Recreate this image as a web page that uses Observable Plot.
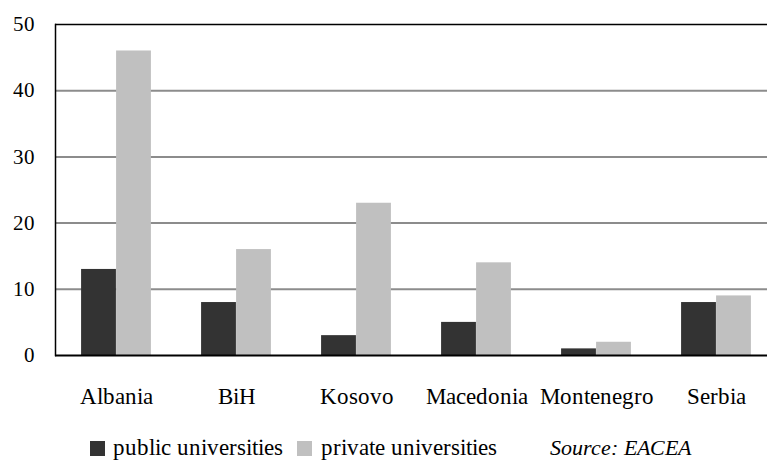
<!DOCTYPE html>
<html>
<head>
<meta charset="utf-8">
<style>
  @font-face { font-family: "ChartSerif"; font-style: normal; src: local("Liberation Serif"), local("LiberationSerif"), local("Times New Roman"); }
  @font-face { font-family: "ChartSerif"; font-style: italic; src: local("Liberation Serif Italic"), local("LiberationSerif-Italic"), local("Times New Roman Italic"); }
  html, body { margin: 0; background: #fff; font-family: "ChartSerif", "Liberation Serif", "Times New Roman", Times, serif; }
  #chart svg { display: block; }
  #chart text { font-family: "ChartSerif", "Liberation Serif", "Times New Roman", Times, serif !important; }
  .legend { position: relative; width: 767px; height: 42px; color: #000; }
  .legend > div { position: absolute; white-space: nowrap; }
</style>
</head>
<body>
<div id="chart"></div>
<script src="https://cdn.jsdelivr.net/npm/d3@7"></script>
<script src="https://cdn.jsdelivr.net/npm/@observablehq/plot@0.6"></script>
<script>
// Number of universities per country, by type
const countries = ["Albania", "BiH", "Kosovo", "Macedonia", "Montenegro", "Serbia"];
const publicUniversities = [13, 8, 3, 5, 1, 8];
const privateUniversities = [46, 16, 23, 14, 2, 9];
const seriesNames = ["public universities", "private universities"];
const seriesColors = ["#333333", "#c0c0c0"];
const yTicks = [0, 10, 20, 30, 40, 50];
const sourceNote = "Source: EACEA";

const rows = countries.flatMap((country, i) => [
  {country, series: seriesNames[0], value: publicUniversities[i]},
  {country, series: seriesNames[1], value: privateUniversities[i]}
]);

const W = 767, H = 420;
const left = 55, bandEnd = 776;
const step = (bandEnd - left) / countries.length;
const barW = 35;
const outer = step / 2 - barW;

const serifStack = '"ChartSerif", "Liberation Serif", "Times New Roman", Times, serif';

function draw() {
  const root = document.getElementById("chart");
  root.replaceChildren();

  const chart = Plot.plot({
    width: W,
    height: H,
    marginLeft: left,
    marginRight: 0,
    marginTop: 24,
    marginBottom: 65,
    style: {fontFamily: serifStack, fontSize: "21px", color: "#000", background: "#fff"},
    x: {domain: countries, range: [left, bandEnd], padding: 0},
    y: {domain: [0, 50], ticks: yTicks},
    marks: [
      Plot.ruleY(yTicks.filter(d => d > 0 && d < 50), {stroke: "#8c8c8c", strokeWidth: 2}),
      Plot.ruleY([50], {stroke: "#000", strokeWidth: 1.5}),
      Plot.barY(rows.filter(d => d.series === seriesNames[0]), {
        x: "country", y: "value", fill: seriesColors[0],
        insetLeft: outer, insetRight: step / 2
      }),
      Plot.barY(rows.filter(d => d.series === seriesNames[1]), {
        x: "country", y: "value", fill: seriesColors[1],
        insetLeft: step / 2, insetRight: outer
      }),
      Plot.ruleY([0], {stroke: "#000", strokeWidth: 2}),
      Plot.frame({anchor: "left", stroke: "#000", strokeWidth: 1.5}),
      Plot.axisY({ticks: yTicks, tickSize: 0, tickPadding: 21, fontSize: 21, label: null}),
      Plot.axisX({tickSize: 0, tickPadding: 32, fontSize: 23, label: null})
    ]
  });
  root.appendChild(chart);

  // Legend and source note below the chart
  const legend = d3.select(root).append("div").attr("class", "legend");
  const swatchX = [90, 297];
  const labelX = [113, 321];
  seriesNames.forEach((name, i) => {
    legend.append("div")
      .style("left", swatchX[i] + "px").style("top", "21px")
      .style("width", "15px").style("height", "15px")
      .style("background", seriesColors[i]);
    legend.append("div")
      .style("left", labelX[i] + "px").style("top", "15px")
      .style("font-size", "23px").style("line-height", "26px")
      .text(name);
  });
  legend.append("div")
    .style("left", "550px").style("top", "15px")
    .style("font-size", "22px").style("line-height", "26px")
    .style("font-style", "italic")
    .text(sourceNote);
}

draw();
// Redraw once the serif faces are ready so every label is measured with them
Promise.all([
  document.fonts.load('23px "ChartSerif"'),
  document.fonts.load('italic 22px "ChartSerif"')
]).then(draw, () => {});
</script>
</body>
</html>
